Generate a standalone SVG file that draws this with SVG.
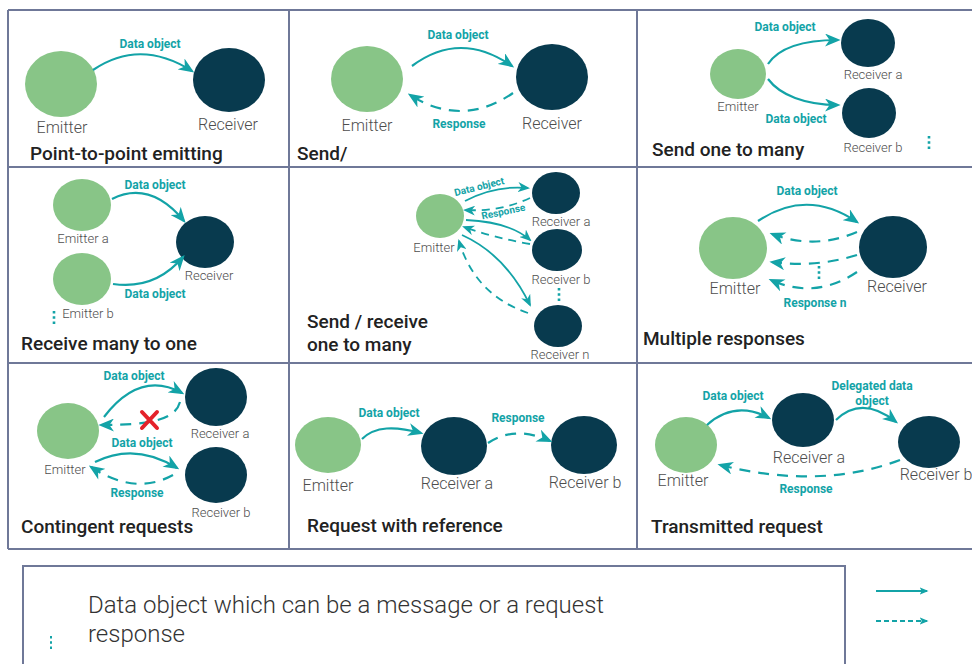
<svg xmlns="http://www.w3.org/2000/svg" width="972" height="664" viewBox="0 0 972 664">
  <style>
    .grid { stroke: #6f7898; stroke-width: 2; fill: none; }
    .em { fill: #88c587; }
    .rc { fill: #083a4e; }
    .lbl { font-family: Roboto, "Liberation Sans", sans-serif; font-weight: 300; fill: #4d4d4d; text-anchor: middle; }
    .l16 { font-size: 16px; }
    .l13 { font-size: 13px; }
    .tl { font-family: Roboto, "Liberation Sans", sans-serif; font-weight: 700; font-size: 12px; fill: #13a3a7; text-anchor: middle; }
    .tl10 { font-size: 10px; }
    .title { font-family: Roboto, "Liberation Sans", sans-serif; font-weight: 500; font-size: 19px; fill: #222222; }
    .legend { font-family: Roboto, "Liberation Sans", sans-serif; font-weight: 300; font-size: 24px; fill: #333333; }
    .arr { fill: none; stroke: #13a3a7; stroke-width: 2.2; marker-end: url(#ah); }
    .arr.dash { stroke-dasharray: 11 8; }
    .arr.sm { stroke-width: 1.8; marker-end: url(#ahs); }
    .arr.sm.dash { stroke-dasharray: 8 6; }
    .dots { stroke: #13a3a7; stroke-width: 2.6; stroke-dasharray: 2.6 2.6; }
  </style>
  <defs>
    <marker id="ah" viewBox="0 0 12 10" refX="10" refY="5" markerWidth="16" markerHeight="13" markerUnits="userSpaceOnUse" orient="auto">
      <path d="M0,0 L12,5 L0,10 L3.5,5 Z" fill="#13a3a7"/>
    </marker>
    <marker id="ahs" viewBox="0 0 12 10" refX="10" refY="5" markerWidth="12" markerHeight="10" markerUnits="userSpaceOnUse" orient="auto">
      <path d="M0,0 L12,5 L0,10 L3.5,5 Z" fill="#13a3a7"/>
    </marker>
    <marker id="ahl" viewBox="0 0 12 10" refX="10" refY="5" markerWidth="9" markerHeight="8" markerUnits="userSpaceOnUse" orient="auto">
      <path d="M0,0 L12,5 L0,10 L3,5 Z" fill="#13a3a7"/>
    </marker>
  </defs>

  <rect width="972" height="664" fill="#ffffff"/>

  <!-- panel grid -->
  <g id="grid" class="grid">
    <line x1="8" y1="10" x2="972" y2="10"/>
    <line x1="8" y1="167" x2="972" y2="167"/>
    <line x1="8" y1="363" x2="972" y2="363"/>
    <line x1="8" y1="549" x2="972" y2="549"/>
    <line x1="8" y1="10" x2="8" y2="549"/>
    <line x1="289" y1="10" x2="289" y2="549"/>
    <line x1="637" y1="10" x2="637" y2="549"/>
  </g>

  <!-- 1: point-to-point emitting -->
  <g id="p1-emitter"><ellipse class="em" cx="61" cy="84" rx="36" ry="33"/><text class="lbl l16" x="62" y="133">Emitter</text></g>
  <g id="p1-receiver"><ellipse class="rc" cx="229" cy="80" rx="36" ry="32"/><text class="lbl l16" x="228" y="130">Receiver</text></g>
  <text class="title" x="30" y="160">Point-to-point emitting</text>

  <!-- 2: send / response -->
  <g id="p2-emitter"><ellipse class="em" cx="367" cy="79" rx="36" ry="33"/><text class="lbl l16" x="367" y="131">Emitter</text></g>
  <g id="p2-receiver"><ellipse class="rc" cx="552" cy="77" rx="36" ry="33"/><text class="lbl l16" x="552" y="129">Receiver</text></g>
  <text class="title" x="297" y="160">Send/</text>

  <!-- 3: send one to many -->
  <g id="p3-emitter"><ellipse class="em" cx="738" cy="74" rx="28" ry="25"/><text class="lbl l13" x="738" y="111">Emitter</text></g>
  <g id="p3-receiver-a"><ellipse class="rc" cx="868" cy="43" rx="27" ry="24"/><text class="lbl l13" x="873" y="79">Receiver a</text></g>
  <g id="p3-receiver-b"><ellipse class="rc" cx="869" cy="113" rx="27" ry="25"/><text class="lbl l13" x="873" y="152">Receiver b</text></g>
  <text class="title" x="652" y="156">Send one to many</text>

  <!-- 4: receive many to one -->
  <g id="p4-emitter-a"><ellipse class="em" cx="82" cy="205" rx="29" ry="26"/><text class="lbl l13" x="83" y="243">Emitter a</text></g>
  <g id="p4-emitter-b"><ellipse class="em" cx="82" cy="279" rx="29" ry="26"/><text class="lbl l13" x="88" y="318">Emitter b</text></g>
  <g id="p4-receiver"><ellipse class="rc" cx="205" cy="242" rx="29" ry="26"/><text class="lbl l13" x="209" y="280">Receiver</text></g>
  <text class="title" x="21" y="350">Receive many to one</text>

  <!-- 5: send / receive one to many -->
  <g id="p5-emitter"><ellipse class="em" cx="440" cy="216" rx="24" ry="22"/><text class="lbl l13" x="434" y="252">Emitter</text></g>
  <g id="p5-receiver-a"><ellipse class="rc" cx="556" cy="193" rx="24" ry="21"/><text class="lbl l13" x="561" y="226">Receiver a</text></g>
  <g id="p5-receiver-b"><ellipse class="rc" cx="557" cy="250" rx="25" ry="21"/><text class="lbl l13" x="561" y="284">Receiver b</text></g>
  <g id="p5-receiver-n"><ellipse class="rc" cx="558" cy="326" rx="24" ry="21"/><text class="lbl l13" x="560" y="359">Receiver n</text></g>
  <text class="title" x="307" y="328">Send / receive</text>
  <text class="title" x="307" y="351">one to many</text>

  <!-- 6: multiple responses -->
  <g id="p6-emitter"><ellipse class="em" cx="733" cy="248" rx="34" ry="31"/><text class="lbl l16" x="735" y="294">Emitter</text></g>
  <g id="p6-receiver"><ellipse class="rc" cx="893" cy="247" rx="34" ry="31"/><text class="lbl l16" x="897" y="292">Receiver</text></g>
  <text class="title" x="643" y="345">Multiple responses</text>

  <!-- 7: contingent requests -->
  <g id="p7-emitter"><ellipse class="em" cx="68" cy="431" rx="31" ry="28"/><text class="lbl l13" x="65" y="474">Emitter</text></g>
  <g id="p7-receiver-a"><ellipse class="rc" cx="216" cy="397" rx="31" ry="29"/><text class="lbl l13" x="220" y="438">Receiver a</text></g>
  <g id="p7-receiver-b"><ellipse class="rc" cx="216" cy="475" rx="31" ry="28"/><text class="lbl l13" x="221" y="517">Receiver b</text></g>
  <text class="title" x="21" y="533">Contingent requests</text>

  <!-- 8: request with reference -->
  <g id="p8-emitter"><ellipse class="em" cx="328" cy="445" rx="33" ry="28"/><text class="lbl l16" x="328" y="491">Emitter</text></g>
  <g id="p8-receiver-a"><ellipse class="rc" cx="454" cy="446" rx="33" ry="29"/><text class="lbl l16" x="457" y="489">Receiver a</text></g>
  <g id="p8-receiver-b"><ellipse class="rc" cx="584" cy="445" rx="33" ry="29"/><text class="lbl l16" x="585" y="488">Receiver b</text></g>
  <text class="title" x="307" y="532">Request with reference</text>

  <!-- 9: transmitted request -->
  <g id="p9-emitter"><ellipse class="em" cx="686" cy="445" rx="31" ry="28"/><text class="lbl l16" x="683" y="486">Emitter</text></g>
  <g id="p9-receiver-a"><ellipse class="rc" cx="803" cy="420" rx="31" ry="27"/><text class="lbl l16" x="809" y="463">Receiver a</text></g>
  <g id="p9-receiver-b"><ellipse class="rc" cx="929" cy="442" rx="31" ry="26"/><text class="lbl l16" x="936" y="480">Receiver b</text></g>
  <text class="title" x="651" y="533">Transmitted request</text>

  <!-- connectors and their labels -->
  <g id="connectors">
    <!-- 1 -->
    <path class="arr" d="M93,70 Q140,38 192,71"/>
    <text class="tl" x="150" y="48">Data object</text>
    <!-- 2 -->
    <path class="arr" d="M412,66 Q460,30 512,66"/>
    <path class="arr dash" d="M513,93 Q462,128 410,95"/>
    <text class="tl" x="458" y="39">Data object</text>
    <text class="tl" x="459" y="128">Response</text>
    <!-- 3 -->
    <path class="arr" d="M768,64 C780,46 805,40 838,40"/>
    <path class="arr" d="M768,79 C780,95 805,105 838,105"/>
    <text class="tl" x="785" y="31">Data object</text>
    <text class="tl" x="796" y="123">Data object</text>
    <line class="dots" x1="929" y1="136" x2="929" y2="151"/>
    <!-- 4 -->
    <path class="arr" d="M112,199 Q150,180 184,221"/>
    <path class="arr" d="M113,284 Q155,290 183,257"/>
    <text class="tl" x="155" y="189">Data object</text>
    <text class="tl" x="155" y="298">Data object</text>
    <line class="dots" x1="54" y1="311" x2="54" y2="326"/>
    <!-- 5 -->
    <path class="arr sm" d="M465,201 Q495,185 528,188"/>
    <path class="arr sm dash" d="M530,198 Q500,212 465,210"/>
    <path class="arr sm" d="M466,220 Q510,222 530,240"/>
    <path class="arr sm dash" d="M530,244 Q495,238 464,227"/>
    <path class="arr sm" d="M462,235 Q506,255 530,305"/>
    <path class="arr sm dash" d="M528,313 Q475,295 459,241"/>
    <text class="tl tl10" x="480" y="190" transform="rotate(-14 480 190)">Data object</text>
    <text class="tl tl10" x="504" y="215" transform="rotate(-12 504 215)">Response</text>
    <line class="dots" x1="559" y1="288" x2="559" y2="303"/>
    <!-- 6 -->
    <path class="arr" d="M758,221 Q807,188 857,222"/>
    <path class="arr dash" d="M857,232 Q815,250 772,234"/>
    <path class="arr dash" d="M857,255 Q815,268 772,262"/>
    <path class="arr dash" d="M857,272 Q815,300 771,280"/>
    <text class="tl" x="807" y="195">Data object</text>
    <text class="tl" x="815" y="307">Response n</text>
    <line class="dots" x1="819" y1="266" x2="819" y2="281"/>
    <!-- 7 -->
    <path class="arr" d="M104,417 Q140,370 182,393"/>
    <path class="arr dash" d="M180,402 C175,420 150,425 101,425"/>
    <path class="arr" d="M95,462 Q135,442 177,468"/>
    <path class="arr dash" d="M173,475 Q135,496 91,467"/>
    <text class="tl" x="134" y="380">Data object</text>
    <text class="tl" x="142" y="447">Data object</text>
    <text class="tl" x="137" y="497">Response</text>
    <path d="M142,412 L157,428 M157,412 L142,428" stroke="#e4222a" stroke-width="4" stroke-linecap="round"/>
    <!-- 8 -->
    <path class="arr" d="M362,439 C375,426 395,426 421,433"/>
    <path class="arr dash" d="M488,443 Q515,425 550,441"/>
    <text class="tl" x="389" y="417">Data object</text>
    <text class="tl" x="518" y="422">Response</text>
    <!-- 9 -->
    <path class="arr" d="M707,425 Q735,400 769,418"/>
    <path class="arr" d="M836,420 Q862,395 896,422"/>
    <path class="arr dash" d="M900,460 Q820,490 720,465"/>
    <text class="tl" x="733" y="400">Data object</text>
    <text class="tl" x="872" y="390">Delegated data</text>
    <text class="tl" x="872" y="405">object</text>
    <text class="tl" x="806" y="493">Response</text>
  </g>

  <!-- legend -->
  <g id="legend">
    <rect x="23" y="566" width="822" height="110" fill="none" stroke="#6f7898" stroke-width="2"/>
    <text class="legend" x="88" y="613">Data object which can be a message or a request</text>
    <text class="legend" x="88" y="642">response</text>
    <line class="dots" x1="51" y1="636" x2="51" y2="651" style="stroke-width:2"/>
    <path d="M876,591 L927,591" fill="none" stroke="#13a3a7" stroke-width="2" marker-end="url(#ahl)"/>
    <path d="M876,621 L927,621" fill="none" stroke="#13a3a7" stroke-width="2" stroke-dasharray="5 3" marker-end="url(#ahl)"/>
  </g>
</svg>
